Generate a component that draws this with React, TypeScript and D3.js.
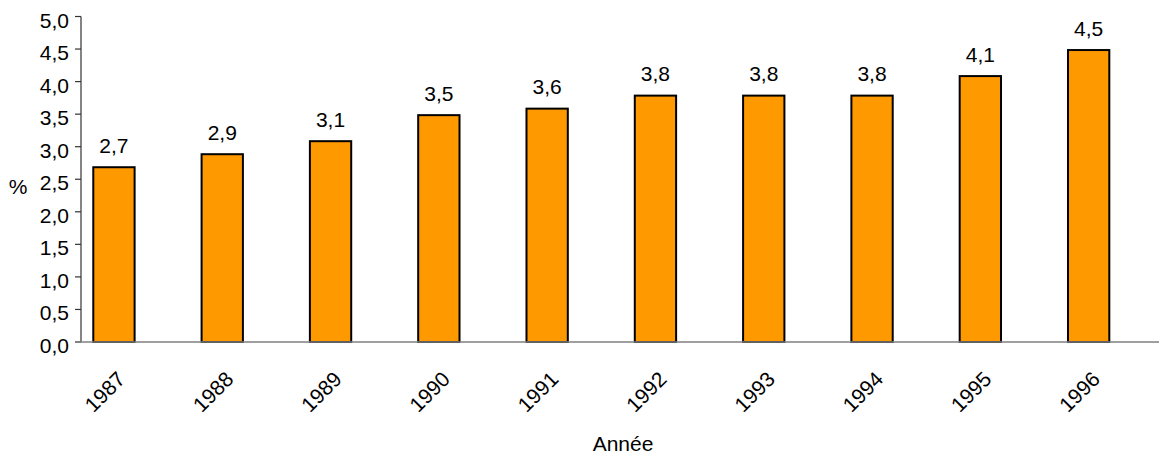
import React from "react";
import * as d3 from "d3";

const years = ["1987", "1988", "1989", "1990", "1991", "1992", "1993", "1994", "1995", "1996"];
const values = [2.7, 2.9, 3.1, 3.5, 3.6, 3.8, 3.8, 3.8, 4.1, 4.5];
const yTicks = [0, 0.5, 1, 1.5, 2, 2.5, 3, 3.5, 4, 4.5, 5];

const W = 1159;
const H = 455;
const FONT = "'Liberation Sans', Arial, sans-serif";

const frLocale = d3.formatLocale({ decimal: ",", thousands: " ", grouping: [3], currency: ["", " €"] });
const fmt = frLocale.format(".1f");

export default function App() {
  const axisX = 81;
  const x = d3.scaleBand<string>().domain(years).range([59.8, 1142.8]).paddingInner(0.6).paddingOuter(0.3);
  const y = d3.scaleLinear().domain([0, 5]).range([342, 16.5]);
  const bw = x.bandwidth();

  return (
    <svg width={W} height={H} style={{ position: "absolute", left: 0, top: 0, background: "#fff" }} fontFamily={FONT}>
      {/* bars */}
      {values.map((v, i) => {
        const x0 = x(years[i])!;
        return (
          <rect
            key={years[i]}
            x={x0 + 1}
            y={y(v) + 1}
            width={bw - 2}
            height={y(0) - y(v) - 1}
            fill="#FF9900"
            stroke="#000"
            strokeWidth={2}
          />
        );
      })}

      {/* value labels */}
      {values.map((v, i) => (
        <text
          key={"v" + years[i]}
          x={x(years[i])! + bw / 2}
          y={y(v) - 13.5}
          textAnchor="middle"
          fontSize={21}
          fill="#000"
        >
          {fmt(v)}
        </text>
      ))}

      {/* y axis */}
      <line x1={axisX} x2={axisX} y1={y(5)} y2={y(0)} stroke="#333" strokeWidth={1.2} />
      {yTicks.map((t) => (
        <g key={"t" + t}>
          <line x1={axisX - 6} x2={axisX} y1={y(t)} y2={y(t)} stroke="#333" strokeWidth={1.2} />
          <text x={axisX - 12} y={y(t) + 11} textAnchor="end" fontSize={21} fill="#000">
            {fmt(t)}
          </text>
        </g>
      ))}
      <text x={18} y={194} textAnchor="middle" fontSize={21} fill="#000">%</text>

      {/* x axis */}
      <line x1={axisX - 6} x2={W} y1={y(0)} y2={y(0)} stroke="#808080" strokeWidth={1.5} />
      {years.map((yr) => (
        <text
          key={"x" + yr}
          transform={`translate(${x(yr)! + bw / 2 + 12.5},${380.5}) rotate(-45)`}
          textAnchor="end"
          fontSize={21}
          fill="#000"
        >
          {yr}
        </text>
      ))}
      <text x={623} y={451} textAnchor="middle" fontSize={21} fill="#000">Année</text>
    </svg>
  );
}
